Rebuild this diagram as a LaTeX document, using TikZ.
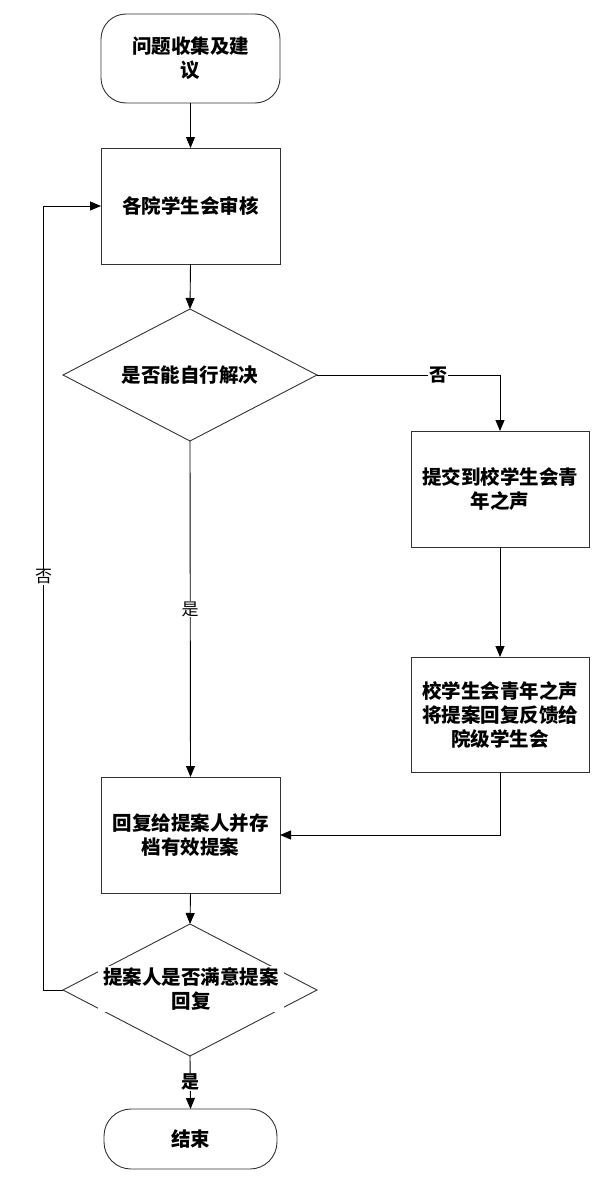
\documentclass[tikz,border=0pt]{standalone}
\usepackage{fontspec}
\newfontfamily\cjk{Noto Sans CJK SC}
\usetikzlibrary{arrows.meta,shapes.geometric}
\begin{document}
\begin{tikzpicture}[x=1pt,y=-1pt,
  every node/.style={inner sep=0pt,outer sep=0pt},
  shapeline/.style={draw=black!80,line width=0.9pt},
  proc/.style={shapeline,rectangle,fill=white,minimum width=179pt,minimum height=116pt,
    align=center,font=\cjk\bfseries\fontsize{19.5}{24}\selectfont},
  term/.style={proc,rounded corners=25pt,minimum height=89pt},
  decision/.style={shapeline,diamond,minimum width=254pt,minimum height=132pt},
  dtext/.style={align=center,font=\cjk\bfseries\fontsize{19.5}{24}\selectfont},
  flow/.style={draw=black,line width=0.9pt,-{Triangle[width=9pt,length=11pt]}},
  plain/.style={draw=black,line width=0.9pt},
  lab/.style={fill=white,inner sep=1pt,font=\cjk\fontsize{17}{19}\selectfont},
  blab/.style={lab,font=\cjk\bfseries\fontsize{18}{20}\selectfont}]
\fill[white] (0,0) rectangle (603,1183);
\useasboundingbox (0,0) rectangle (603,1183);

% main column
\node[term] (start) at (190.5,58.5) {问题收集及建\\议};
\node[proc] (review) at (190.5,206) {各院学生会审核};
\node[decision] (d1) at (190,375) {};
\node[dtext] (d1t) at (d1.center) {是否能自行解决};
\node[proc] (reply) at (190.5,835) {回复给提案人并存\\档有效提案};
\node[decision] (d2) at (190,990) {};
\node[dtext,fill=white,minimum width=186pt,minimum height=46pt] (d2t) at (191,989) {提案人是否满意提案\\回复};
\node[term,minimum width=173pt,minimum height=60pt,rounded corners=27pt] (end) at (190.5,1139) {结束};

% school-level branch
\node[proc,minimum width=178pt] (submit) at (500,489) {提交到校学生会青\\年之声};
\node[proc,minimum width=178pt,minimum height=115pt] (feedback) at (500,714.5) {校学生会青年之声\\将提案回复反馈给\\院级学生会};

\coordinate (turn) at (500,375);
\coordinate (back) at (43,990);

% connectors
\draw[flow] (start.south) -- (review.north);
\draw[flow] (review.south) -- (d1.north);
\draw[plain] (d1.east) -- (turn);
\draw[flow] (turn) -- (submit.north);
\node[blab] (no1) at (438,375) {否};
\draw[flow] (submit.south) -- (feedback.north);
\draw[flow] (feedback.south) |- (reply.east);
\draw[flow] (d1.south) -- (reply.north);
\node[lab] (yes1) at (190,609) {是};
\draw[flow] (reply.south) -- (d2.north);
\draw[flow] (d2.west) -- (back) |- (review.west);
\node[lab] (no2) at (43.5,577) {否};
\draw[flow] (d2.south) -- (end.north);
\node[blab] (yes2) at (190,1082) {是};
\end{tikzpicture}
\end{document}
